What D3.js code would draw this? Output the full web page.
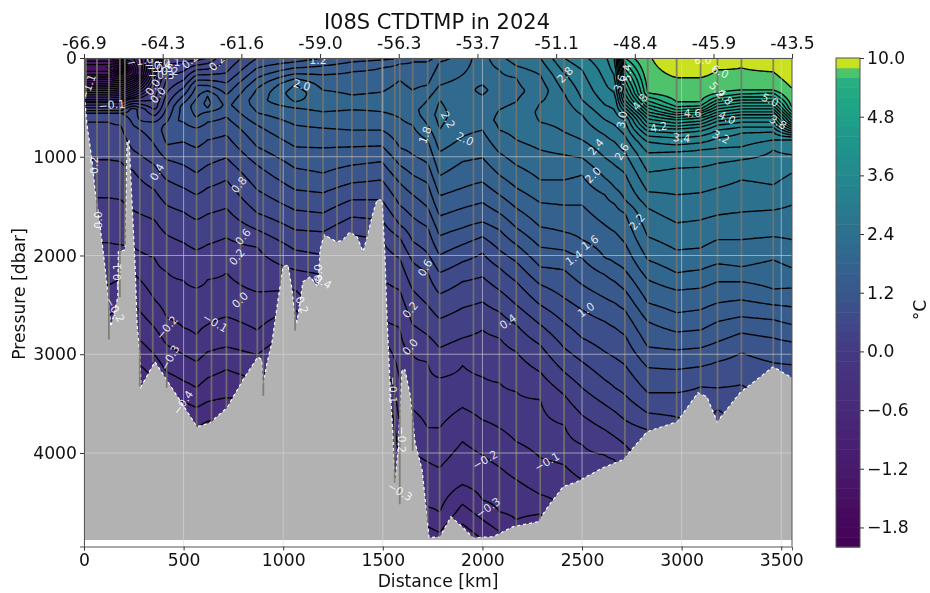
<!DOCTYPE html>
<html>
<head>
<meta charset="utf-8">
<script src="https://cdn.jsdelivr.net/npm/d3@7"></script>
<style>
body { margin: 0; background: #fff; }
svg { display: block; filter: blur(0.5px); }
text { font-family: "DejaVu Sans", sans-serif; fill: #111; }
</style>
</head>
<body>
<div id="chart"></div>
<script>
// colour levels of the filled section
var levels = [-2,-1.9,-1.8,-1.7,-1.6,-1.5,-1.4,-1.3,-1.2,-1.1,-1,-0.9,-0.8,-0.7,-0.6,-0.5,-0.4,-0.3,-0.2,-0.1,
    0,0.2,0.4,0.6,0.8,1,1.2,1.4,1.6,1.8,2,2.2,2.4,2.6,2.8,3,3.2,3.4,3.6,3.8,4,4.2,4.4,4.6,4.8,5,5.2,5.4,5.6,6,10];
var cbarTicks = [-1.8,-1.2,-0.6,0,1.2,2.4,3.6,4.8,10];

var lonKm = [0,395,790,1185,1580,1975,2370,2765,3160,3554];
var lonLabels = ["-66.9","-64.3","-61.6","-59.0","-56.3","-53.7","-51.1","-48.4","-45.9","-43.5"];

// temperatures that ladderPress walks down through, coldest last
var ladder = [6,5.6,5.4,5.2,5,4.8,4.6,4.4,4.2,4,3.8,3.6,3.4,3.2,3,2.8,2.6,2.4,2.2,2,1.8,1.6,1.4,1.2,1,0.8,0.6,0.4,0.2,0,-0.1,-0.2,-0.3,-0.4];

// profile columns
var profileKm = [0,65,125,185,245,355,415,500,565,620,715,870,1060,1200,1345,1495,1585,1650,1725,1785,1900,2000,2085,2170,2290,2410,2500,2615,2665,2715,2830,2975,3095,3180,3300,3460,3554];
var upperPress = [
    [0,100,170,430,560],[0,100,170,430,560],[0,100,170,430,560],[0,120,170,430,560],[0,120,170,400,520],
    [0,120,275,495,680],[0,495,730],[0,225,495,630],[0,120,275,475],[0,225,385,455],
    [0,150,255,375,475],[0,100,200,305,425],[0,40,100,160,210,265,355],[0,80,170,325,425],[0,40,140,375,445],
    [0,20,100,345,425],[0,60,225,425],[0,40,325,525],[0,40,275,425,575],[0,40,275,425,575],
    [0,170,325,630],[0,170,325,475,630],[0,120,325,525,630],[0,80,200,345,445,630],[0,170,325,455,545,650],
    [0,150,355,495],[0,120,425,575],[0,325,475],[0,275,425],[0,225,425,505,575],
    [0],[0],[0],[0],[0],[0],[0]];
var upperTemp = [
    [-1.2,-1.5,-1.3,-0.15,0.8],[-1.2,-1.5,-1.3,-0.15,0.8],[-1.2,-1.5,-1.3,-0.15,0.8],[-1,-1.85,-1.4,-0.15,0.8],[-1,-1.25,-1.2,-0.1,0.9],
    [-0.5,-0.2,0,0.3,0.9],[0.1,0.8,1.1],[0.1,0.6,1.3,1.3],[0.1,0.6,1.2,1.5],[0.2,1,1.6,1.66],
    [0.6,0.8,1,1.2,1.35],[1,1.2,1.4,1.6,1.72],[1.1,1.2,1.4,1.6,1.8,2,2.12],[1.2,1.4,1.6,1.8,1.92],[1.3,1.4,1.6,1.8,1.88],
    [1.3,1.4,1.6,1.8,1.86],[1.4,1.6,1.8,1.92],[1.5,1.6,1.8,1.96],[1.5,1.6,1.8,2,2.1],[1.7,1.8,2,2.2,2.27],
    [1.9,2,2.08,2.08],[2.1,2.1,1.95,2.1,2.1],[2.35,2.2,2.1,2.2,2.25],[2.5,2.4,2.2,2.15,2.2,2.3],[2.6,2.4,2.28,2.4,2.44,2.4],
    [3,2.8,2.6,2.5],[3.15,3,2.8,2.6],[3.35,3.15,3],[3.6,3.3,3.1],[5.4,4.6,4,3.6,3.2],
    [5.9],[6.6],[6.6],[6.6],[6.6],[6.6],[6.6]];
var ladderStart = [0.6,0.6,0.6,0.6,0.8,0.8,1,1.2,1.4,1.6,1.2,1.6,2,1.8,1.8,1.8,1.8,1.8,2,2.2,2,2,2.2,2.2,2.2,2.4,2.4,2.8,3,3,5.6,6,6,6,6,6,6];
var ladderPress = [
    [650,1030,1415,1870,2300,2600,2905],
    [650,1030,1415,1870,2300,2600,2905],
    [650,1030,1415,1870,2300,2600,2905],
    [680,1050,1435,1890,2245,2550,2855,3155],
    [680,930,1135,1540,1915,2175,2480,2785,3055],
    [880,1085,1335,1640,2025,2450,2730,3005,3260],
    [880,1030,1235,1490,1790,2165,2630,2905,3180,3410],
    [650,850,1085,1315,1560,1870,2255,2730,3005,3270,3480],
    [605,710,910,1165,1385,1640,1945,2330,2805,3075,3340,3540],
    [505,545,650,830,1085,1315,1580,1890,2245,2700,2975,3240,3480],
    [595,780,1010,1235,1520,1820,2175,2620,2925,3155,3440],
    [555,680,900,1085,1335,1570,1740,1915,2370,2755,3005,3260],
    [445,505,680,900,1115,1335,1540,1740,1945,2145,2350,2550],
    [545,710,910,1165,1365,1570,1760,1995,2195],
    [525,730,900,1085,1265,1435,1610,1790,1995],
    [545,730,890,1050,1235,1435,1640,1840,2245,2650],
    [605,910,1085,1265,1490,1690,1820,2025,2350,2730,3260,3715,4170],
    [680,980,1185,1385,1610,1860,2065,2350,2700,3005,3560,3985,4420],
    [680,830,1065,1265,1510,1710,1975,2165,2500,2805,3075,3745,4090,4545],
    [730,950,1195,1395,1600,1800,1995,2175,2390,2640,2935,3240,3745,4150,4605],
    [800,1050,1315,1520,1720,1890,2065,2265,2530,2835,3115,3540,3885,4320],
    [730,1010,1255,1465,1660,1810,1975,2215,2470,2755,3230,3665,4020,4475],
    [730,960,1185,1385,1570,1740,1945,2125,2350,2570,2835,3290,3745,4140,4595],
    [830,1085,1315,1520,1720,1890,2065,2265,2500,2700,2975,3380,3885,4270,4675],
    [930,1235,1465,1710,1915,2115,2295,2500,2700,2905,3180,3460,4050,4420],
    [750,980,1235,1490,1760,1945,2145,2430,2680,2935,3180,3410,3715,4120,4575],
    [830,1010,1185,1490,1840,2025,2295,2550,2835,3075,3340,3615,3915,4270],
    [625,780,1010,1215,1385,1690,2025,2195,2430,2670,2975,3260,3510,3765,4020],
    [525,680,850,1085,1315,1480,1760,2075,2265,2480,2730,3035,3340,3580,3835,4070],
    [625,780,950,1165,1435,1570,1870,2145,2350,2550,2805,3105,3410,3665,3915],
    [355,395,435,475,505,545,575,615,660,700,740,790,850,960,1155,1355,1520,1810,2045,2245,2480,2670,2925,3135,3390,3595,3765],
    [200,445,495,525,555,575,605,625,660,690,720,760,810,880,950,1115,1385,1670,1945,2175,2350,2580,2775,2955,3155,3390,3635],
    [200,445,485,515,535,555,585,605,640,670,700,740,790,860,930,1105,1365,1640,1925,2145,2330,2550,2755,2935,3125,3330],
    [120,355,395,425,455,485,515,545,575,605,640,680,730,810,910,1065,1315,1590,1840,2085,2265,2480,2670,2875,3075,3340,3560],
    [100,325,365,395,425,455,485,515,545,575,605,650,700,760,900,1030,1235,1560,1840,2115,2265,2450,2620,2785,2985,3310],
    [140,325,355,395,425,455,485,515,545,575,605,650,700,750,830,930,1285,1540,1810,2045,2340,2500,2650,2835,3085],
    [305,505,545,575,605,640,660,680,700,720,740,760,780,800,830,980,1165,1490,1840,2125,2330,2520,2700,2875,3105]];

// sea floor
var bathyKm = [0,15,40,55,80,100,115,135,170,172,206,216,226,241,256,266,281,286,356,567,633,718,798,873,894,899,919,944,974,999,1024,1044,1059,1069,1084,1099,1135,1175,1185,1205,1270,1300,1335,1371,1401,1421,1451,1471,1496,1511,1516,1521,1536,1551,1561,1576,1596,1611,1637,1662,1697,1722,1732,1787,1842,1903,1953,2053,2154,2279,2329,2405,2475,2605,2706,2826,2977,3082,3127,3178,3293,3459,3554];
var bathyDbar = [324,678,1032,1336,1690,2024,2297,2722,2419,1963,1943,860,830,1467,2075,2682,3026,3330,3076,3734,3694,3542,3259,3026,3056,3309,3087,2874,2449,2115,2095,2348,2621,2672,2479,2267,2216,2317,1943,1791,1862,1842,1761,1811,1963,1811,1569,1437,1437,2014,2328,2631,3289,3835,4301,3967,3157,3157,3410,3896,4169,4645,4858,4848,4645,4756,4858,4848,4746,4696,4544,4341,4291,4149,4068,3785,3684,3390,3431,3684,3390,3127,3238];
var floorDbar = 4880;

// CTD stations and how deep each cast reached
var stationKm = [10,65,125,180,205,280,345,415,565,640,715,785,870,900,985,1060,1125,1200,1270,1345,1420,1495,1560,1585,1650,1725,1785,1955,2085,2170,2290,2410,2715,2830,2975,3095,3180,3300,3460];
var stationDepth = [400,1600,2850,2420,1900,3330,3080,3340,3730,3690,3545,3300,3030,3420,2300,2760,2210,1830,1860,1780,1810,1440,4300,4520,3980,4700,4850,4860,4800,4740,4670,4330,4050,3780,3680,3400,3680,3380,3125];

// inline contour labels
var labelText = ["−1.1","−1.0","0.2","0.2","2.0","1.2","−0.1","0.0","0.0","1.8","0.4","0.8","0.6","0.2","0.2","0.0","−0.1","−0.2",
    "−0.4","−0.2","−0.3","−0.1","−0.5","0.0","0.4","0.6","2.2","2.0","2.8","2.4","2.0","2.6","3.0","3.6","5.4","4.8","4.2","4.6","3.4","3.2","4.0","5.2","4.8","6.0","6.0","5.0","3.8","2.2","1.6","1.4",
    "−0.2","−0.3","−0.4","−0.1","0.0","0.2","0.2","0.0","−0.1","−0.2","−0.3","1.0","0.4","−0.2","−0.1","−0.3"];
var labelKm = [20,281,532,668,1094,1175,140,346,371,1712,366,778,798,768,50,70,166,156,
    371,407,387,417,382,1175,1200,1712,1827,1913,2415,2570,2555,2700,2700,2690,2725,2790,2885,3055,3000,3198,3228,3178,3218,3193,3107,3444,3484,2776,2540,2460,
    417,432,497,658,783,1094,1637,1637,1551,1596,1586,2520,2128,2013,2324,2028];
var labelDbar = [295,30,30,50,275,20,475,295,375,780,1155,1285,1810,2015,1085,1640,2215,2550,
    70,130,170,40,100,2175,2265,2125,625,820,170,900,1185,950,625,255,150,445,700,555,810,800,605,325,395,140,20,425,650,1660,1870,2025,
    2730,3035,3490,2680,2450,2500,2550,2925,3360,3865,4390,2550,2670,4070,4090,4555];
var labelAngle = [-70,-10,-40,-45,15,0,-5,-55,-50,-70,-60,-50,-50,-50,-90,-90,-90,60,
    0,0,0,0,0,-90,30,-60,60,25,-45,-50,-45,-60,-80,-70,-90,-50,-10,0,5,25,25,50,50,25,0,25,30,-50,-35,-35,
    -50,-60,-55,30,-45,70,-50,-50,90,90,30,-35,-35,-30,-30,-35];

var width = 930, height = 593;
var x = d3.scaleLinear().domain([0, 3554]).range([84, 792]);
var y = d3.scaleLinear().domain([0, 4947]).range([58, 546.5]);

// band colour: viridis by layer midpoint, the two top layers stretched
var tScale = d3.scaleLinear().domain([-2, 5.5, 5.8, 8]).range([0, 0.625, 0.72, 0.92]);
function bandColor(i) {
    return d3.interpolateViridis(tScale((levels[i] + levels[i + 1]) / 2));
}

// one temperature(pressure) function per profile column
var columnFns = profileKm.map(function(km, c) {
    var ps = upperPress[c].slice();
    var ts = upperTemp[c].slice();
    var k = ladder.indexOf(ladderStart[c]);
    ladderPress[c].forEach(function(p, n) {
        ps.push(p);
        ts.push(ladder[k + n]);
    });
    // keep cooling under the last reading, hidden by the sea floor
    var lastP = ps[ps.length - 1], lastT = ts[ts.length - 1];
    ps.push(7000);
    ts.push(lastT - (7000 - lastP) * 0.0005);
    return d3.scaleLinear().domain(ps).range(ts).clamp(true);
});

// regular grid for d3.contours, a bit wider than the axes so borders stay out of sight
var dKm = 10, dP = 10, km0 = -30, p0 = -40;
var nx = Math.ceil((3554 - km0 + 30) / dKm), ny = Math.ceil((5000 - p0) / dP);
var values = new Float64Array(nx * ny);
for (var j = 0; j < ny; j++) {
    var p = p0 + j * dP;
    var colT = columnFns.map(function(f) { return f(p); });
    var interpT = d3.scaleLinear().domain(profileKm).range(colT).clamp(true);
    for (var i = 0; i < nx; i++) {
        values[j * nx + i] = interpT(km0 + i * dKm);
    }
}

var gridToPlot = d3.geoTransform({
    point: function(gx, gy) {
        this.stream.point(x(km0 + (gx - 0.5) * dKm), y(p0 + (gy - 0.5) * dP));
    }
});
var contourPath = d3.geoPath(gridToPlot);
var contours = d3.contours().size([nx, ny]);

var svg = d3.select("#chart").append("svg").attr("width", width).attr("height", height);

svg.append("clipPath").attr("id", "plot-clip").append("rect")
    .attr("x", x(0)).attr("y", y(0))
    .attr("width", x(3554) - x(0)).attr("height", y(floorDbar) - y(0));

var field = svg.append("g").attr("clip-path", "url(#plot-clip)");

field.append("rect")
    .attr("x", x(0)).attr("y", y(0))
    .attr("width", x(3554) - x(0)).attr("height", y(floorDbar) - y(0))
    .attr("fill", bandColor(0));

var shapes = levels.slice(0, -1).map(function(lev) { return contours.contour(values, lev); });

shapes.forEach(function(shape, i) {
    field.append("path").attr("d", contourPath(shape)).attr("fill", bandColor(i));
});
shapes.forEach(function(shape) {
    field.append("path").attr("d", contourPath(shape))
        .attr("fill", "none").attr("stroke", "#000").attr("stroke-width", 1.35);
});

// sea floor on top of the section
var floorArea = d3.area()
    .x(function(d) { return x(d[0]); })
    .y0(y(floorDbar))
    .y1(function(d) { return y(d[1]); });
var bathy = d3.zip(bathyKm, bathyDbar);

svg.append("path").datum(bathy).attr("d", floorArea).attr("fill", "#b2b2b2");
svg.append("path").datum(bathy)
    .attr("d", d3.line().x(function(d) { return x(d[0]); }).y(function(d) { return y(d[1]); }))
    .attr("fill", "none").attr("stroke", "#fff").attr("stroke-width", 1.2).attr("stroke-dasharray", "3 3");

// station casts
svg.append("g").selectAll("line").data(stationKm).enter().append("line")
    .attr("x1", function(d) { return x(d); })
    .attr("x2", function(d) { return x(d); })
    .attr("y1", y(0))
    .attr("y2", function(d, i) { return y(stationDepth[i]); })
    .attr("stroke", "#77746c").attr("stroke-opacity", 0.85).attr("stroke-width", 1.8);

// grid
var xTicks = [0,500,1000,1500,2000,2500,3000,3500];
var yTicks = [0,1000,2000,3000,4000];
var grid = svg.append("g").attr("stroke", "#d8d8d8").attr("stroke-opacity", 0.6).attr("stroke-width", 1);
xTicks.forEach(function(t) {
    grid.append("line").attr("x1", x(t)).attr("x2", x(t)).attr("y1", y(0)).attr("y2", y(4947));
});
yTicks.forEach(function(t) {
    grid.append("line").attr("x1", x(0)).attr("x2", x(3554)).attr("y1", y(t)).attr("y2", y(t));
});

// contour labels
svg.append("g").attr("clip-path", "url(#plot-clip)").selectAll("text").data(labelText).enter().append("text")
    .attr("transform", function(d, i) {
        return "translate(" + x(labelKm[i]) + "," + y(labelDbar[i]) + ")rotate(" + labelAngle[i] + ")";
    })
    .attr("text-anchor", "middle").attr("dy", "0.35em")
    .style("font-size", "11px").style("fill", "#fff").style("fill-opacity", 0.85)
    .text(function(d) { return d; });

// axes
function styleAxis(g) {
    g.selectAll("text").style("font-size", "17.2px").style("fill", "#111");
    g.selectAll("line").attr("stroke", "#333");
    g.select(".domain").attr("stroke", "#555");
}

svg.append("g").attr("transform", "translate(0," + y(4947) + ")")
    .call(d3.axisBottom(x).tickValues(xTicks).tickFormat(d3.format("d")).tickSize(4).tickPadding(3))
    .call(styleAxis);
svg.append("g").attr("transform", "translate(" + x(0) + ",0)")
    .call(d3.axisLeft(y).tickValues(yTicks).tickFormat(d3.format("d")).tickSize(4).tickPadding(3))
    .call(styleAxis);
svg.append("g").attr("transform", "translate(0," + y(0) + ")")
    .call(d3.axisTop(x).tickValues(lonKm).tickFormat(function(d, i) { return lonLabels[i]; }).tickSize(4).tickPadding(5))
    .call(styleAxis);
svg.append("line").attr("x1", x(3554)).attr("x2", x(3554)).attr("y1", y(0)).attr("y2", y(4947)).attr("stroke", "#555");

svg.append("text").attr("x", 437).attr("y", 29).attr("text-anchor", "middle")
    .style("font-size", "21px").text("I08S CTDTMP in 2024");
svg.append("text").attr("x", 438).attr("y", 587).attr("text-anchor", "middle")
    .style("font-size", "17.2px").text("Distance [km]");
svg.append("text").attr("transform", "translate(25,294)rotate(-90)").attr("text-anchor", "middle")
    .style("font-size", "17.2px").text("Pressure [dbar]");

// colorbar, evenly spaced by level index
var cbarY = d3.scalePoint().domain(levels).range([547, 58]);
var cbar = svg.append("g");
cbar.selectAll("rect").data(levels.slice(0, -1)).enter().append("rect")
    .attr("x", 836).attr("width", 24)
    .attr("y", function(d, i) { return cbarY(levels[i + 1]); })
    .attr("height", function(d, i) { return cbarY(levels[i]) - cbarY(levels[i + 1]) + 0.5; })
    .attr("fill", function(d, i) { return bandColor(i); });
cbar.append("rect").attr("x", 836).attr("y", 58).attr("width", 24).attr("height", 489)
    .attr("fill", "none").attr("stroke", "#555");
svg.append("g").attr("transform", "translate(860,0)")
    .call(d3.axisRight(cbarY).tickValues(cbarTicks).tickFormat(d3.format(".1f")).tickSize(4).tickPadding(3))
    .call(styleAxis)
    .select(".domain").remove();
svg.append("text").attr("transform", "translate(926,310)rotate(-90)").attr("text-anchor", "middle")
    .style("font-size", "17.2px").text("°C");
</script>
</body>
</html>
